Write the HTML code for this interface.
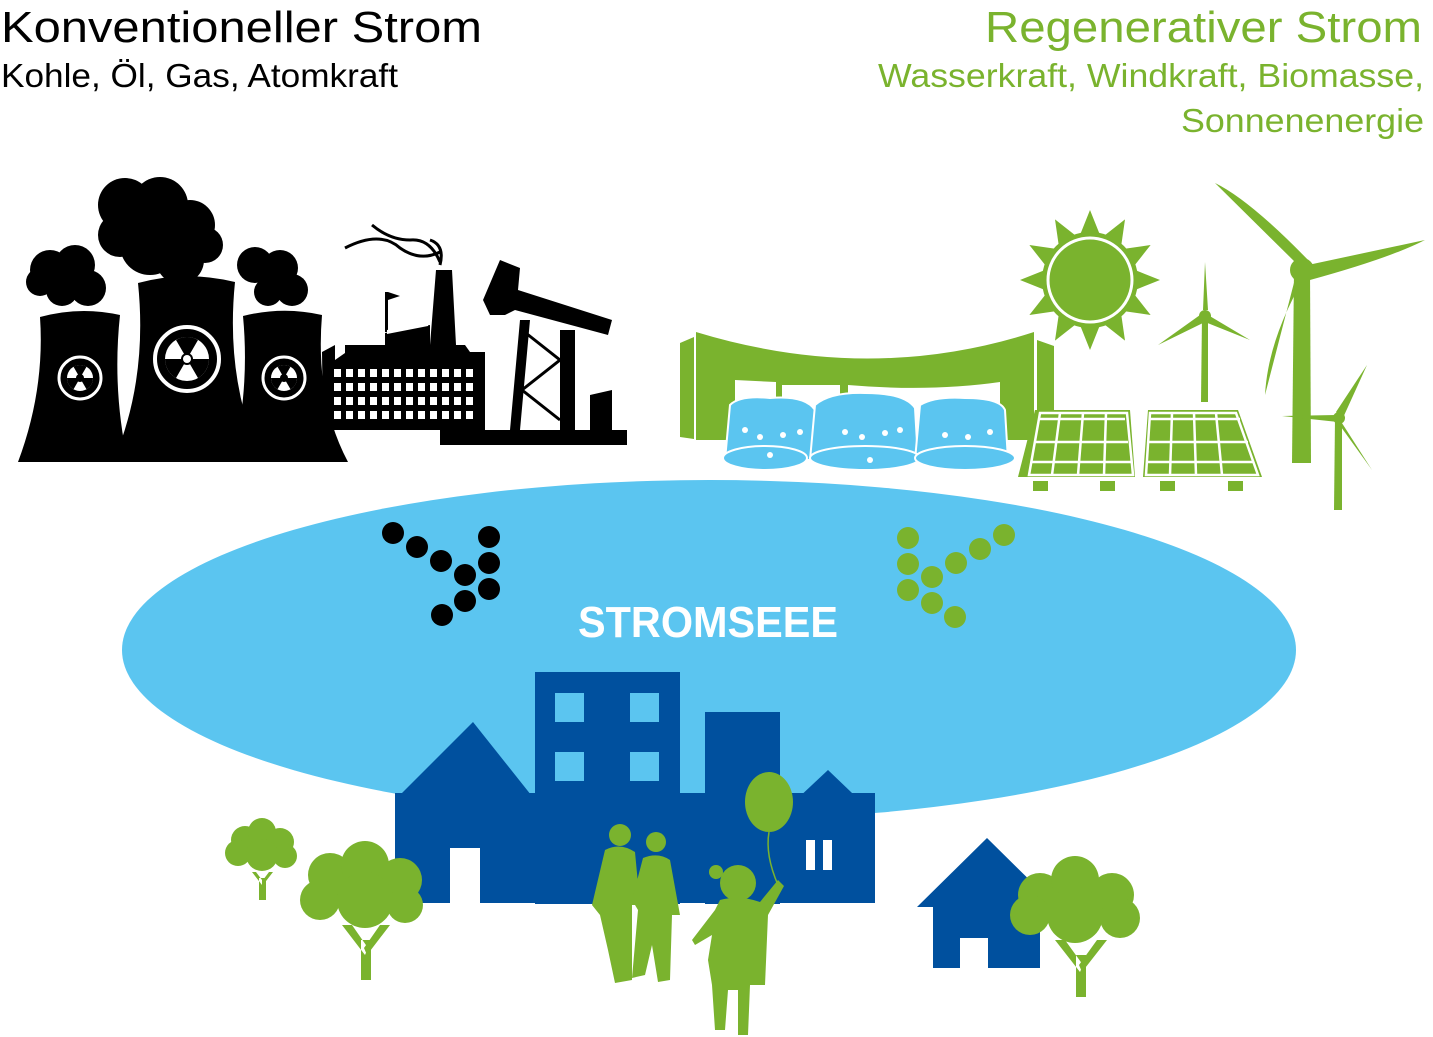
<!DOCTYPE html>
<html><head><meta charset="utf-8"><style>
html,body{margin:0;padding:0;background:#fff}
svg{display:block}
</style></head><body>
<svg width="1433" height="1037" viewBox="0 0 1433 1037" xmlns="http://www.w3.org/2000/svg">
<!-- texts -->
<text x="1" y="42" font-family="Liberation Sans, sans-serif" font-size="44" fill="#000" textLength="481" lengthAdjust="spacingAndGlyphs">Konventioneller Strom</text>
<text x="1" y="87" font-family="Liberation Sans, sans-serif" font-size="33" fill="#000" textLength="397" lengthAdjust="spacingAndGlyphs">Kohle, Öl, Gas, Atomkraft</text>
<g font-family="Liberation Sans, sans-serif" fill="#7ab32e">
<text x="985" y="42" font-size="44" textLength="437" lengthAdjust="spacingAndGlyphs">Regenerativer Strom</text>
<text x="878" y="87" font-size="33" textLength="546" lengthAdjust="spacingAndGlyphs">Wasserkraft, Windkraft, Biomasse,</text>
<text x="1181" y="132" font-size="33" textLength="243" lengthAdjust="spacingAndGlyphs">Sonnenenergie</text>
</g>

<!-- lake -->
<ellipse cx="709" cy="650" rx="587" ry="170" fill="#5bc5f0"/>
<text x="578" y="637" font-family="Liberation Sans, sans-serif" font-weight="bold" font-size="44" fill="#fff" textLength="260" lengthAdjust="spacingAndGlyphs">STROMSEEE</text>
<g fill="#000">
<circle cx="393" cy="533" r="11"/><circle cx="417" cy="547" r="11"/><circle cx="441" cy="561" r="11"/><circle cx="465" cy="575" r="11"/>
<circle cx="489" cy="537" r="11"/><circle cx="489" cy="563" r="11"/><circle cx="489" cy="589" r="11"/><circle cx="465" cy="601" r="11"/><circle cx="442" cy="615" r="11"/>
</g>
<g fill="#7ab32e">
<circle cx="908" cy="538" r="11"/><circle cx="908" cy="564" r="11"/><circle cx="908" cy="590" r="11"/><circle cx="932" cy="577" r="11"/><circle cx="932" cy="603" r="11"/><circle cx="955" cy="617" r="11"/>
<circle cx="956" cy="563" r="11"/><circle cx="980" cy="549" r="11"/><circle cx="1004" cy="535" r="11"/>
</g>

<!-- smoke -->
<g fill="#000">
<circle cx="50" cy="270" r="20"/><circle cx="75" cy="265" r="20"/><circle cx="88" cy="288" r="18"/><circle cx="62" cy="290" r="16"/><circle cx="40" cy="282" r="14"/>
<circle cx="125" cy="205" r="27"/><circle cx="160" cy="205" r="28"/><circle cx="190" cy="225" r="25"/><circle cx="150" cy="245" r="30"/><circle cx="120" cy="235" r="22"/><circle cx="180" cy="260" r="24"/><circle cx="205" cy="245" r="18"/>
<circle cx="255" cy="265" r="18"/><circle cx="280" cy="268" r="18"/><circle cx="292" cy="290" r="16"/><circle cx="268" cy="292" r="14"/>
<path d="M40 317 Q80 306 120 315 Q112 390 128 462 L18 462 Q45 390 40 317Z"/>
<path d="M138 283 Q186 270 235 282 Q225 380 262 462 L113 462 Q148 380 138 283Z"/>
<path d="M243 316 Q283 306 322 315 Q315 400 348 462 L232 462 Q250 390 243 316Z"/>
<path d="M322 352 L335 345 L335 360 L345 353 L345 345 L385 345 L385 333 L430 325 L430 345 L436 270 L452 270 L456 345 L465 345 L470 352 L485 352 L485 430 L323 430Z"/>
<rect x="385" y="292" width="3" height="40"/><path d="M388 292 L400 296 L388 300Z"/>
<path d="M440 430 L510 430 L520 320 L530 320 L520 430 L560 430 L560 330 L575 330 L575 430 L590 430 L590 395 L612 390 L612 430 L627 430 L627 445 L440 445Z"/>
<path d="M483 300 L500 260 L520 268 L518 290 L612 320 L608 335 L515 310 L505 315 L490 315Z"/>
</g>
<g stroke="#000" stroke-width="3" fill="none">
<path d="M345 248 Q380 230 400 248 Q420 262 440 252"/><path d="M372 225 Q390 240 410 240 Q430 238 440 262"/><path d="M430 240 Q445 245 440 265"/>
<path d="M522 330 L560 360 L522 390 L560 420"/>
</g>
<g fill="#fff">
<path d="M387 330 L428 322 L428 326 L387 334Z"/>
</g>
<g fill="#fff">
<g id="win">
<rect x="334" y="369" width="7" height="8"/><rect x="346" y="369" width="7" height="8"/><rect x="358" y="369" width="7" height="8"/><rect x="370" y="369" width="7" height="8"/><rect x="382" y="369" width="7" height="8"/><rect x="394" y="369" width="7" height="8"/><rect x="406" y="369" width="7" height="8"/><rect x="418" y="369" width="7" height="8"/><rect x="430" y="369" width="7" height="8"/><rect x="442" y="369" width="7" height="8"/><rect x="454" y="369" width="7" height="8"/><rect x="466" y="369" width="7" height="8"/>
</g>
<use href="#win" y="14"/><use href="#win" y="28"/><use href="#win" y="42"/>
</g>
<g>
<circle cx="80" cy="378" r="21" fill="none" stroke="#fff" stroke-width="3"/>
<circle cx="80" cy="378" r="13" fill="#fff"/><circle cx="80" cy="378" r="4" fill="#000"/>
<path d="M80 378 L93 378 A13 13 0 0 1 86.5 389.3Z M80 378 L73.5 389.3 A13 13 0 0 1 67 378Z M80 378 L73.5 366.7 A13 13 0 0 1 86.5 366.7Z" fill="#000"/>
<circle cx="187" cy="359" r="32" fill="none" stroke="#fff" stroke-width="4"/>
<circle cx="187" cy="359" r="22" fill="#fff"/>
<path d="M187 359 L209 359 A22 22 0 0 1 198 378Z M187 359 L176 378 A22 22 0 0 1 165 359Z M187 359 L176 340 A22 22 0 0 1 198 340Z" fill="#000"/>
<circle cx="187" cy="359" r="6" fill="#000"/><circle cx="187" cy="359" r="4" fill="#fff"/>
<circle cx="284" cy="378" r="21" fill="none" stroke="#fff" stroke-width="3"/>
<circle cx="284" cy="378" r="13" fill="#fff"/>
<path d="M284 378 L297 378 A13 13 0 0 1 290.5 389.3Z M284 378 L277.5 389.3 A13 13 0 0 1 271 378Z M284 378 L277.5 366.7 A13 13 0 0 1 290.5 366.7Z" fill="#000"/>
<circle cx="284" cy="378" r="4" fill="#000"/>
</g>

<!-- dam -->
<g fill="#7ab32e">
<path d="M680 343 L694 337 L694 439 L680 437Z"/>
<path d="M696 332 Q870 385 1034 332 L1034 440 L1000 440 L1000 382 Q930 392 848 385 L848 400 L840 400 L840 385 L782 385 L782 400 L776 400 L776 382 L735 380 L735 440 L696 440Z"/>
<path d="M1037 340 L1054 346 L1054 440 L1037 440Z"/>
</g>
<g fill="#5bc5f0" stroke="#fff" stroke-width="2">
<path d="M725 460 L730 405 Q740 395 770 398 Q805 395 815 410 L818 460Z"/>
<path d="M810 460 L815 405 Q830 392 865 393 Q905 393 915 408 L918 460Z"/>
<path d="M915 460 L920 405 Q935 396 965 398 Q1000 398 1005 410 L1008 460Z"/>
<ellipse cx="765" cy="458" rx="42" ry="12"/><ellipse cx="865" cy="458" rx="55" ry="12"/><ellipse cx="965" cy="458" rx="50" ry="12"/>
</g>
<g fill="#fff">
<circle cx="745" cy="430" r="3"/><circle cx="760" cy="437" r="3"/><circle cx="783" cy="435" r="3"/><circle cx="800" cy="432" r="3"/><circle cx="845" cy="432" r="3"/><circle cx="862" cy="437" r="3"/><circle cx="885" cy="433" r="3"/><circle cx="900" cy="430" r="3"/><circle cx="945" cy="435" r="3"/><circle cx="968" cy="437" r="3"/><circle cx="990" cy="432" r="3"/><circle cx="770" cy="455" r="3"/><circle cx="870" cy="460" r="3"/>
</g>
<g fill="#7ab32e">
<g transform="translate(1090,280)">
<path d="M0 -70 L12 -40 L-12 -40Z"/><path d="M0 -70 L12 -40 L-12 -40Z" transform="rotate(30)"/><path d="M0 -70 L12 -40 L-12 -40Z" transform="rotate(60)"/><path d="M0 -70 L12 -40 L-12 -40Z" transform="rotate(90)"/><path d="M0 -70 L12 -40 L-12 -40Z" transform="rotate(120)"/><path d="M0 -70 L12 -40 L-12 -40Z" transform="rotate(150)"/><path d="M0 -70 L12 -40 L-12 -40Z" transform="rotate(180)"/><path d="M0 -70 L12 -40 L-12 -40Z" transform="rotate(210)"/><path d="M0 -70 L12 -40 L-12 -40Z" transform="rotate(240)"/><path d="M0 -70 L12 -40 L-12 -40Z" transform="rotate(270)"/><path d="M0 -70 L12 -40 L-12 -40Z" transform="rotate(300)"/><path d="M0 -70 L12 -40 L-12 -40Z" transform="rotate(330)"/>
<circle r="48"/>
<circle r="42" fill="none" stroke="#fff" stroke-width="3"/>
</g>
<path d="M1035 410 L1130 410 L1135 477 L1018 477Z"/>
<path d="M1148 410 L1238 410 L1262 477 L1143 477Z"/>
<rect x="1033" y="481" width="15" height="10"/><rect x="1100" y="481" width="15" height="10"/><rect x="1160" y="481" width="15" height="10"/><rect x="1228" y="481" width="15" height="10"/>
<path d="M1294 270 L1310 270 L1311 463 L1292 463Z"/>
<path d="M1298 265 L1215 183 Q1250 200 1310 262Z"/>
<path d="M1308 265 L1425 240 Q1390 258 1310 280Z"/>
<path d="M1296 275 L1265 395 Q1268 340 1304 278Z"/>
<circle cx="1302" cy="270" r="12"/>
<path d="M1202 315 L1208 315 L1208 402 L1201 402Z"/>
<path d="M1203 310 L1205 262 L1208 310Z"/>
<path d="M1208 315 L1250 340 L1205 322Z"/>
<path d="M1200 315 L1158 345 L1205 322Z"/>
<circle cx="1205" cy="316" r="6"/>
<path d="M1335 418 L1342 418 L1342 510 L1334 510Z"/>
<path d="M1336 412 L1367 365 L1342 420Z"/>
<path d="M1340 420 L1372 470 L1336 420Z"/>
<path d="M1336 415 L1282 416 L1338 422Z"/>
<circle cx="1339" cy="418" r="6"/>
</g>
<g stroke="#fff" stroke-width="2.5" fill="none">
<path d="M1040 419 L1125 419 M1036 442 L1128 442 M1031 462 L1132 462 M1060 413 L1052 475 M1083 413 L1078 475 M1106 413 L1104 475 M1040 413 L1029 475 L1133 475 L1127 413Z"/>
<path d="M1150 419 L1240 419 M1149 442 L1248 442 M1148 462 L1254 462 M1172 413 L1170 475 M1194 413 L1196 475 M1216 413 L1222 475 M1150 413 L1146 475 L1258 475 L1236 413Z"/>
</g>

<!-- buildings -->
<g fill="#00509e">
<rect x="535" y="672" width="145" height="232"/>
<rect x="705" y="712" width="75" height="192"/>
<path d="M395 800 L473 722 L535 800 L535 903 L395 903Z"/>
<path d="M780 815 L828 770 L875 815 L875 903 L780 903Z"/>
<rect x="395" y="793" width="480" height="110"/>
<path d="M917 907 L987 838 L1057 907 L1040 907 L1040 968 L933 968 L933 907Z"/>
</g>
<g fill="#5bc5f0">
<rect x="555" y="693" width="29" height="29"/><rect x="630" y="693" width="29" height="29"/><rect x="555" y="752" width="29" height="29"/><rect x="630" y="752" width="29" height="29"/>
</g>
<g fill="#fff">
<rect x="450" y="848" width="30" height="56"/>
<rect x="960" y="938" width="28" height="30"/>
<rect x="806" y="840" width="9" height="30"/><rect x="823" y="840" width="9" height="30"/>
</g>

<!-- trees & people -->
<g fill="#7ab32e">
<circle cx="245" cy="840" r="14"/><circle cx="262" cy="832" r="14"/><circle cx="280" cy="842" r="14"/><circle cx="238" cy="853" r="13"/><circle cx="262" cy="855" r="16"/><circle cx="285" cy="856" r="12"/>
<path d="M259 878 L266 878 L266 900 L259 900Z M252 872 L262 885 L262 880 L256 872Z M273 872 L263 885 L263 880 L269 872Z"/>
<circle cx="330" cy="875" r="22"/><circle cx="365" cy="865" r="24"/><circle cx="400" cy="880" r="22"/><circle cx="320" cy="900" r="20"/><circle cx="365" cy="900" r="28"/><circle cx="405" cy="905" r="18"/>
<path d="M361 940 L371 940 L371 980 L361 980Z M342 925 L365 955 L368 948 L352 925Z M390 925 L367 955 L364 948 L380 925Z"/>
<circle cx="1040" cy="895" r="22"/><circle cx="1075" cy="880" r="24"/><circle cx="1112" cy="895" r="22"/><circle cx="1030" cy="915" r="20"/><circle cx="1075" cy="915" r="28"/><circle cx="1120" cy="918" r="20"/>
<path d="M1076 955 L1086 955 L1086 997 L1076 997Z M1055 940 L1080 972 L1083 965 L1065 940Z M1107 940 L1082 972 L1079 965 L1097 940Z"/>
<ellipse cx="769" cy="802" rx="24" ry="30"/>
<circle cx="620" cy="835" r="11"/>
<path d="M605 850 Q620 842 635 852 L640 905 L632 905 L632 980 L615 983 L608 950 L600 915 L592 905 Z"/>
<circle cx="656" cy="842" r="10"/>
<path d="M643 858 Q658 852 670 860 L680 915 L672 915 L670 980 L658 982 L652 945 L645 975 L632 978 L638 910 L632 900Z"/>
<circle cx="738" cy="883" r="18"/>
<circle cx="716" cy="872" r="7"/>
<path d="M720 900 Q740 895 760 902 L778 880 L784 886 L768 915 L765 985 L750 985 L748 1035 L738 1035 L738 990 L728 990 L725 1030 L715 1030 L712 985 L708 960 L712 935 L695 945 L692 940 L715 910Z"/>
</g>
<path d="M769 832 Q765 855 778 885" stroke="#7ab32e" stroke-width="1.5" fill="none"/>
</svg>
</body></html>
